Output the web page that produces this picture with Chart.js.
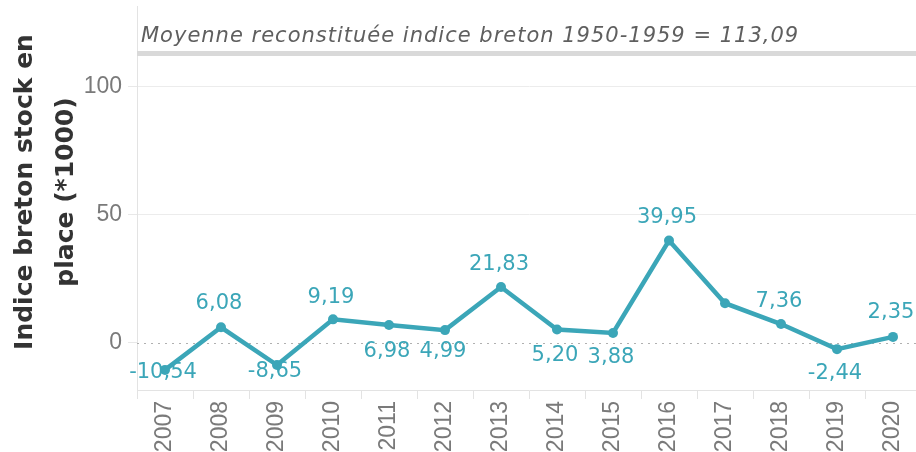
<!DOCTYPE html>
<html>
<head>
<meta charset="utf-8">
<script src="https://cdn.jsdelivr.net/npm/chart.js@4"></script>
<style>
  html, body { margin: 0; padding: 0; background: #fff; overflow: hidden; }
  #wrap { width: 916px; height: 452px; overflow: hidden; position: relative; }
  #chart { position: absolute; left: 0; top: 0; }
</style>
</head>
<body>
<div id="wrap"><canvas id="chart" width="921" height="452"></canvas></div>
<script>
// Years and values of the breton index (stock in place, *1000)
const years = ['2007', '2008', '2009', '2010', '2011', '2012', '2013', '2014', '2015', '2016', '2017', '2018', '2019', '2020'];
const indice = [-10.54, 6.08, -8.65, 9.19, 6.98, 4.99, 21.83, 5.20, 3.88, 39.95, 15.5, 7.36, -2.44, 2.35];
const moyenneRef = 113.09;
const moyenneText = 'Moyenne reconstituée indice breton 1950-1959 = 113,09';
const yTicks = [0, 50, 100];
const yTitle = ['Indice breton stock en', 'place (*1000)'];

// vertical offset of each value label (px), null = no label
const labelDy = [3, -24, 7, -22, 27, 21, -22, 26, 25, -23, null, -23, 24, -24];

const TEAL = '#3ba6b8';

const annotations = {
  id: 'annotations',
  beforeDatasetsDraw(chart) {
    const { ctx, chartArea, scales } = chart;
    const y = scales.y;

    // dotted zero line
    const y0 = Math.round(y.getPixelForValue(0)) + 0.5;
    ctx.save();
    ctx.strokeStyle = '#b0b0b0';
    ctx.lineWidth = 1;
    ctx.setLineDash([2, 5]);
    ctx.beginPath();
    ctx.moveTo(chartArea.left, y0);
    ctx.lineTo(chartArea.right, y0);
    ctx.stroke();
    ctx.restore();

    // reference line 1950-1959
    const yr = y.getPixelForValue(moyenneRef);
    ctx.save();
    ctx.strokeStyle = '#d9d9d9';
    ctx.lineWidth = 5;
    ctx.beginPath();
    ctx.moveTo(chartArea.left, yr);
    ctx.lineTo(chartArea.right, yr);
    ctx.stroke();
    ctx.fillStyle = '#5f5f5f';
    ctx.font = 'italic 21px "DejaVu Sans"';
    ctx.letterSpacing = '1px';
    ctx.textAlign = 'left';
    ctx.textBaseline = 'alphabetic';
    ctx.fillText(moyenneText, chartArea.left + 4, yr - 11);
    ctx.restore();

    // y axis title, two lines
    ctx.save();
    ctx.translate(0, 192);
    ctx.rotate(-Math.PI / 2);
    ctx.fillStyle = '#333333';
    ctx.font = 'bold 25px "DejaVu Sans"';
    ctx.textAlign = 'center';
    ctx.textBaseline = 'middle';
    ctx.fillText(yTitle[0], 0, 25);
    ctx.fillText(yTitle[1], 0, 66);
    ctx.restore();
  },
  afterDatasetsDraw(chart) {
    const { ctx } = chart;
    const meta = chart.getDatasetMeta(0);
    ctx.save();
    ctx.fillStyle = TEAL;
    ctx.font = '21px "DejaVu Sans"';
    ctx.textAlign = 'center';
    ctx.textBaseline = 'middle';
    meta.data.forEach((pt, i) => {
      if (labelDy[i] === null) return;
      const txt = indice[i].toFixed(2).replace('.', ',');
      ctx.fillText(txt, pt.x - 2, pt.y + labelDy[i]);
    });
    ctx.restore();
  }
};

new Chart(document.getElementById('chart'), {
  type: 'line',
  data: {
    labels: years,
    datasets: [{
      data: indice,
      borderColor: TEAL,
      backgroundColor: TEAL,
      borderWidth: 4.5,
      pointRadius: 5,
      pointBorderWidth: 0,
      tension: 0,
      clip: false
    }]
  },
  options: {
    responsive: false,
    animation: false,
    layout: { autoPadding: false, padding: { top: 6, right: 0, left: 0, bottom: 0 } },
    plugins: {
      legend: { display: false },
      tooltip: { enabled: false }
    },
    scales: {
      x: {
        offset: true,
        afterFit: s => { s.height = 62; s.paddingLeft = 0; s.paddingRight = 0; },
        grid: {
          offset: true,
          drawOnChartArea: false,
          tickLength: 9,
          color: '#e3e3e3'
        },
        border: { color: '#e3e3e3' },
        ticks: {
          color: '#7a7a7a',
          font: { family: 'Liberation Sans', size: 23 },
          minRotation: 90,
          maxRotation: 90,
          padding: 2,
          autoSkip: false
        }
      },
      y: {
        min: -18.4,
        max: 131.6,
        afterFit: s => { s.width = 137; s.paddingTop = 0; s.paddingBottom = 0; },
        afterBuildTicks: s => { s.ticks = yTicks.map(v => ({ value: v })); },
        grid: {
          color: c => (c.tick && c.tick.value === 0) ? 'rgba(0,0,0,0)' : '#ececec',
          tickColor: '#e8e8e8',
          tickLength: 9
        },
        border: { color: '#e3e3e3' },
        ticks: {
          color: '#7a7a7a',
          font: { family: 'Liberation Sans', size: 23 },
          padding: 6
        }
      }
    }
  },
  plugins: [annotations]
});
</script>
</body>
</html>
